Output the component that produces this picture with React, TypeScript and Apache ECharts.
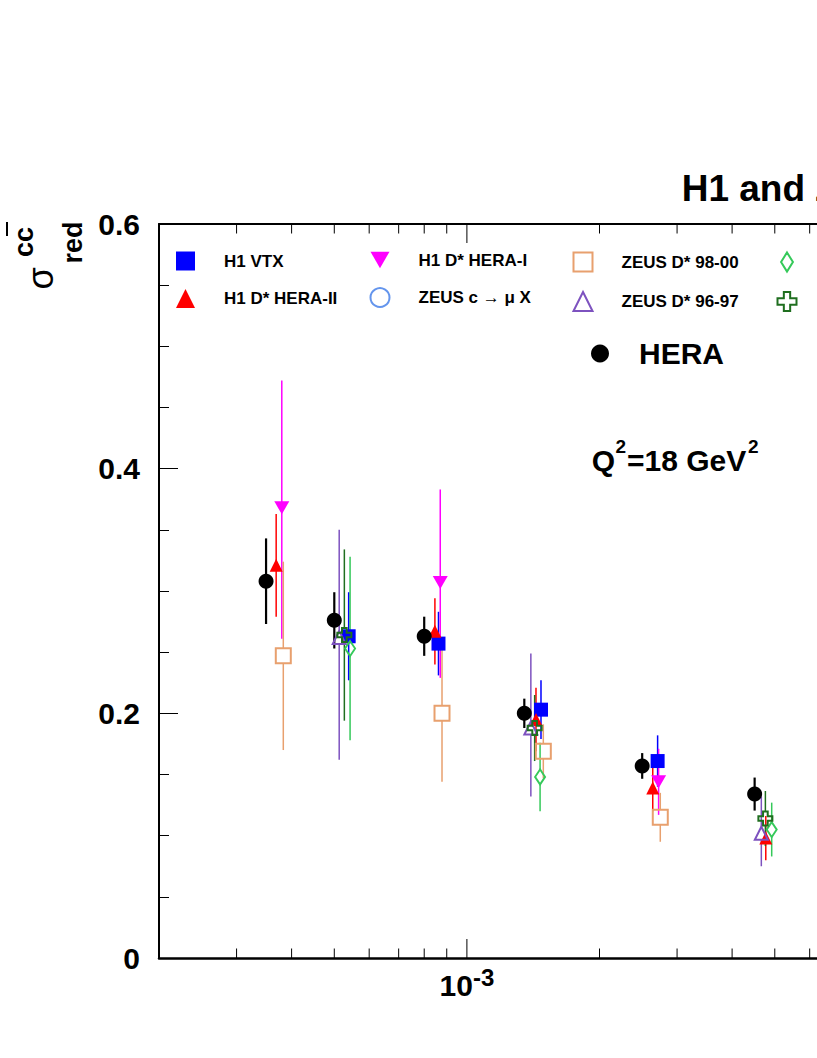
import React, { useEffect, useRef } from 'react';
import * as echarts from 'echarts';

const FONT = '"Liberation Sans", Arial, Helvetica, sans-serif';

// ---- axes ----
const X_MIN = 2e-4;
const X_MAX = 2e-2;
const Y_MIN = 0;
const Y_MAX = 0.6;
const Y_INTERVAL = 0.2;
const X_TICKS = [3e-4, 4e-4, 5e-4, 6e-4, 7e-4, 8e-4, 9e-4, 1e-3, 2e-3, 3e-3, 4e-3, 5e-3, 6e-3, 7e-3, 8e-3, 9e-3, 1e-2];
const X_LABELLED = [1e-3];

// ---- texts ----
const TITLE = 'H1 and ZEUS';
const Q2_BASE = 'Q';
const Q2_REST = '=18 GeV';
const SUP_TWO = '2';

// ---- data ----
// HERA combined
const HERA_X = [0.00035, 0.0005, 0.0008, 0.00135, 0.0025, 0.0045];
const HERA_Y = [0.308, 0.276, 0.263, 0.2, 0.157, 0.134];
const HERA_ERR = [0.035, 0.023, 0.016, 0.012, 0.0105, 0.0135];

// H1 VTX
const H1_VTX_X = [0.000539, 0.000862, 0.001473, 0.00271];
const H1_VTX_Y = [0.263, 0.257, 0.203, 0.161];
const H1_VTX_ERR = [0.036, 0.026, 0.024, 0.021];

// H1 D* HERA-II
const H1_DSTAR_II_X = [0.000369, 0.000846, 0.001435, 0.002642, 0.00477];
const H1_DSTAR_II_Y = [0.321, 0.267, 0.195, 0.139, 0.098];
const H1_DSTAR_II_ERR = [0.042, 0.027, 0.026, 0.019, 0.018];

// H1 D* HERA-I
const H1_DSTAR_I_X = [0.00038, 0.00087, 0.002724];
const H1_DSTAR_I_Y = [0.368, 0.307, 0.144];
const H1_DSTAR_I_ERR_UP = [0.104, 0.076, 0.027];
const H1_DSTAR_I_ERR_DN = [0.107, 0.078, 0.027];

// ZEUS c -> mu X (no point inside the visible x range)
const ZEUS_MU_X: number[] = [];
const ZEUS_MU_Y: number[] = [];
const ZEUS_MU_ERR: number[] = [];

// ZEUS D* 98-00
const ZEUS_DSTAR_9800_X = [0.000383, 0.000878, 0.001491, 0.002748];
const ZEUS_DSTAR_9800_Y = [0.247, 0.2, 0.169, 0.115];
const ZEUS_DSTAR_9800_ERR = [0.077, 0.056, 0.022, 0.02];

// ZEUS D* 96-97
const ZEUS_DSTAR_9697_X = [0.000513, 0.001397, 0.00466];
const ZEUS_DSTAR_9697_Y = [0.262, 0.188, 0.102];
const ZEUS_DSTAR_9697_ERR_UP = [0.088, 0.061, 0.03];
const ZEUS_DSTAR_9697_ERR_DN = [0.1, 0.056, 0.027];

// ZEUS D0 2005
const ZEUS_D0_X = [0.000543, 0.001466, 0.00492];
const ZEUS_D0_Y = [0.253, 0.148, 0.105];
const ZEUS_D0_ERR = [0.075, 0.028, 0.022];

// ZEUS D+ 2005
const ZEUS_DPLUS_X = [0.000527, 0.001425, 0.00476];
const ZEUS_DPLUS_Y = [0.264, 0.188, 0.114];
const ZEUS_DPLUS_ERR = [0.07, 0.027, 0.0225];

// ---- symbols ----
const SYM_DOWN = 'path://M0,0L16,0L8,14Z';
const SYM_CROSS = 'path://M4,0H8V4H12V8H8V12H4V8H0V4H4Z';
const SYM_DIAMOND = 'path://M5,0L10,8L5,16L0,8Z';

interface SetDef {
  name: string;
  x: number[];
  y: number[];
  up: number[];
  dn: number[];
  color: string;
  symbol: string;
  size: number | number[];
  open: boolean;
  gap: number;
  lw: number;
}

const SETS: SetDef[] = [
  { name: 'H1 VTX', x: H1_VTX_X, y: H1_VTX_Y, up: H1_VTX_ERR, dn: H1_VTX_ERR, color: '#0000ff', symbol: 'rect', size: 14, open: false, gap: 0, lw: 1.5 },
  { name: 'ZEUS c \u2192 \u03bc X', x: ZEUS_MU_X, y: ZEUS_MU_Y, up: ZEUS_MU_ERR, dn: ZEUS_MU_ERR, color: '#6495ed', symbol: 'circle', size: 15, open: true, gap: 7.5, lw: 1.5 },
  { name: 'H1 D* HERA-I', x: H1_DSTAR_I_X, y: H1_DSTAR_I_Y, up: H1_DSTAR_I_ERR_UP, dn: H1_DSTAR_I_ERR_DN, color: '#ff00ff', symbol: SYM_DOWN, size: [15, 13], open: false, gap: 0, lw: 1.5 },
  { name: 'H1 D* HERA-II', x: H1_DSTAR_II_X, y: H1_DSTAR_II_Y, up: H1_DSTAR_II_ERR, dn: H1_DSTAR_II_ERR, color: '#ff0000', symbol: 'triangle', size: [13, 13], open: false, gap: 0, lw: 1.5 },
  { name: 'ZEUS D* 98-00', x: ZEUS_DSTAR_9800_X, y: ZEUS_DSTAR_9800_Y, up: ZEUS_DSTAR_9800_ERR, dn: ZEUS_DSTAR_9800_ERR, color: '#e8a06e', symbol: 'rect', size: 15, open: true, gap: 7.5, lw: 1.5 },
  { name: 'ZEUS D* 96-97', x: ZEUS_DSTAR_9697_X, y: ZEUS_DSTAR_9697_Y, up: ZEUS_DSTAR_9697_ERR_UP, dn: ZEUS_DSTAR_9697_ERR_DN, color: '#7d52bf', symbol: 'triangle', size: [13, 13], open: true, gap: 6.5, lw: 1.5 },
  { name: 'ZEUS D0 2005', x: ZEUS_D0_X, y: ZEUS_D0_Y, up: ZEUS_D0_ERR, dn: ZEUS_D0_ERR, color: '#35c95a', symbol: SYM_DIAMOND, size: [10, 15], open: true, gap: 7.5, lw: 1.5 },
  { name: 'ZEUS D+ 2005', x: ZEUS_DPLUS_X, y: ZEUS_DPLUS_Y, up: ZEUS_DPLUS_ERR, dn: ZEUS_DPLUS_ERR, color: '#1f6e1f', symbol: SYM_CROSS, size: 14, open: true, gap: 7, lw: 1.5 },
  { name: 'HERA', x: HERA_X, y: HERA_Y, up: HERA_ERR, dn: HERA_ERR, color: '#000000', symbol: 'circle', size: 15, open: false, gap: 0, lw: 2.2 },
];

const CHART_W = 1100;
const CHART_H = 1058;

function errRender(color: string, lw: number, gap: number) {
  return (params: any, api: any) => {
    const xv = api.value(0);
    const yv = api.value(1);
    const up = api.value(2);
    const dn = api.value(3);
    const c = api.coord([xv, yv]);
    const t = api.coord([xv, yv + up]);
    const b = api.coord([xv, yv - dn]);
    const children: any[] = [];
    if (c[1] - gap > t[1]) {
      children.push({ type: 'line', shape: { x1: c[0], y1: t[1], x2: c[0], y2: c[1] - gap }, style: { stroke: color, lineWidth: lw } });
    }
    if (b[1] > c[1] + gap) {
      children.push({ type: 'line', shape: { x1: c[0], y1: c[1] + gap, x2: c[0], y2: b[1] }, style: { stroke: color, lineWidth: lw } });
    }
    return { type: 'group', children };
  };
}

function tickRender(params: any, api: any) {
  const v = api.value(0);
  const lg = Math.log10(v);
  const major = Math.abs(lg - Math.round(lg)) < 1e-6;
  const len = major ? 19 : 9.5;
  const b = api.coord([v, Y_MIN]);
  const t = api.coord([v, Y_MAX]);
  return {
    type: 'group',
    children: [
      { type: 'line', shape: { x1: b[0], y1: b[1], x2: b[0], y2: b[1] - len }, style: { stroke: '#000', lineWidth: 1 } },
      { type: 'line', shape: { x1: t[0], y1: t[1], x2: t[0], y2: t[1] + len }, style: { stroke: '#000', lineWidth: 1 } },
    ],
  };
}

function buildOption() {
  const series: any[] = [
    {
      type: 'custom',
      name: 'x ticks',
      dimensions: ['x', 'y'],
      encode: { x: 0, y: 1 },
      data: X_TICKS.map((v) => [v, Y_MIN]),
      renderItem: tickRender,
      silent: true,
      z: 5,
    },
  ];
  SETS.forEach((s) => {
    const rows = s.x.map((xv, i) => [xv, s.y[i], s.up[i], s.dn[i]]);
    series.push({
      type: 'custom',
      name: s.name + ' unc',
      dimensions: ['x', 'y', 'up', 'dn'],
      encode: { x: 0, y: 1 },
      data: rows,
      renderItem: errRender(s.color, s.lw, s.gap),
      silent: true,
    });
    series.push({
      type: 'scatter',
      name: s.name,
      data: rows.map((r) => [r[0], r[1]]),
      symbol: s.symbol,
      symbolSize: s.size,
      itemStyle: s.open
        ? { color: 'rgba(255,255,255,0)', borderColor: s.color, borderWidth: 2, opacity: 1 }
        : { color: s.color, borderWidth: 0, opacity: 1 },
      emphasis: { disabled: true },
      silent: true,
    });
  });

  const legendCommon = {
    orient: 'vertical',
    itemWidth: 19,
    itemHeight: 19,
    itemGap: 18.5,
    padding: 0,
    selectedMode: false,
    textStyle: { fontSize: 17, fontWeight: 'bold', fontFamily: FONT, color: '#000', padding: [0, 0, 0, 24] },
  };

  const textStyle = (size: number, bold = true) => ({
    fontSize: size,
    fontWeight: bold ? 'bold' : 'normal',
    fontFamily: FONT,
    fill: '#000',
    align: 'left',
    verticalAlign: 'middle',
  });

  return {
    animation: false,
    backgroundColor: '#ffffff',
    grid: { left: 159, right: CHART_W - 1040, top: 224, bottom: 100, containLabel: false },
    xAxis: [
      {
        type: 'log',
        logBase: 10,
        min: X_MIN,
        max: X_MAX,
        position: 'bottom',
        axisLine: { show: true, onZero: false, lineStyle: { color: '#000', width: 2.5 } },
        axisTick: { show: false },
        minorTick: { show: false },
        splitLine: { show: false },
        axisLabel: {
          margin: 12,
          formatter: (v: number) => {
            const lg = Math.log10(v);
            const hit = X_LABELLED.some((w) => Math.abs(Math.log10(w) - lg) < 1e-6);
            return hit ? '{b|10}{s|' + Math.round(lg) + '}' : '';
          },
          rich: {
            b: { fontSize: 30, fontWeight: 'bold', fontFamily: FONT, color: '#000', lineHeight: 30, verticalAlign: 'bottom' },
            s: { fontSize: 24, fontWeight: 'bold', fontFamily: FONT, color: '#000', height: 14, lineHeight: 14, verticalAlign: 'top' },
          },
        },
      },
      {
        type: 'log',
        logBase: 10,
        min: X_MIN,
        max: X_MAX,
        position: 'top',
        axisLine: { show: true, onZero: false, lineStyle: { color: '#000', width: 2 } },
        axisTick: { show: false },
        axisLabel: { show: false },
        splitLine: { show: false },
      },
    ],
    yAxis: {
      type: 'value',
      min: Y_MIN,
      max: Y_MAX,
      interval: Y_INTERVAL,
      axisLine: { show: true, onZero: false, lineStyle: { color: '#000', width: 2 } },
      axisTick: { show: true, inside: true, length: 19, lineStyle: { color: '#000', width: 1 } },
      minorTick: { show: true, splitNumber: 4, length: 10, lineStyle: { color: '#000', width: 1 } },
      splitLine: { show: false },
      minorSplitLine: { show: false },
      axisLabel: {
        margin: 19,
        fontSize: 30,
        fontWeight: 'bold',
        fontFamily: FONT,
        color: '#000',
        formatter: (v: number) => (v === 0 ? '0' : v.toFixed(1)),
      },
    },
    legend: [
      { ...legendCommon, left: 176, top: 251.5, data: ['H1 VTX', 'H1 D* HERA-II'] },
      { ...legendCommon, left: 369.5, top: 251.5, data: ['H1 D* HERA-I', 'ZEUS c \u2192 \u03bc X'] },
      { ...legendCommon, left: 572.5, top: 251.5, data: ['ZEUS D* 98-00', 'ZEUS D* 96-97'] },
      { ...legendCommon, left: 776.5, top: 251.5, data: ['ZEUS D0 2005', 'ZEUS D+ 2005'] },
      {
        orient: 'vertical',
        left: 591,
        top: 338.5,
        itemWidth: 18,
        itemHeight: 18,
        padding: 0,
        selectedMode: false,
        data: ['HERA'],
        textStyle: { fontSize: 30, fontWeight: 'bold', fontFamily: FONT, color: '#000', padding: [0, 0, 0, 25] },
      },
    ],
    graphic: [
      { type: 'text', x: 681.7, y: 188.3, silent: true, style: { text: TITLE, ...textStyle(37) } },
      { type: 'text', x: 591.7, y: 460.3, silent: true, style: { text: Q2_BASE, ...textStyle(30) } },
      { type: 'text', x: 615.5, y: 446, silent: true, style: { text: SUP_TWO, ...textStyle(19) } },
      { type: 'text', x: 627, y: 460.3, silent: true, style: { text: Q2_REST, ...textStyle(30) } },
      { type: 'text', x: 748, y: 446, silent: true, style: { text: SUP_TWO, ...textStyle(19) } },
      { type: 'text', x: 40.4, y: 278.5, rotation: Math.PI / 2, silent: true, style: { text: '\u03c3', ...textStyle(36, false), align: 'center' } },
      { type: 'text', x: 23.6, y: 242, rotation: Math.PI / 2, silent: true, style: { text: 'cc', ...textStyle(27), align: 'center' } },
      { type: 'text', x: 72.5, y: 242.5, rotation: Math.PI / 2, silent: true, style: { text: 'red', ...textStyle(27), align: 'center' } },
      { type: 'line', silent: true, shape: { x1: 7, y1: 222, x2: 7, y2: 236 }, style: { stroke: '#000', lineWidth: 2 } },
    ],
    series,
  };
}

export default function App() {
  const ref = useRef<HTMLDivElement>(null);
  useEffect(() => {
    if (!ref.current) return;
    const chart = echarts.init(ref.current, null, { renderer: 'svg' });
    chart.setOption(buildOption() as any);
    return () => {
      chart.dispose();
    };
  }, []);
  return (
    <div
      style={{ position: 'fixed', left: 0, top: 0, width: 817, height: 1058, overflow: 'hidden', background: '#ffffff' }}
    >
      <div ref={ref} style={{ width: CHART_W, height: CHART_H }} />
    </div>
  );
}
